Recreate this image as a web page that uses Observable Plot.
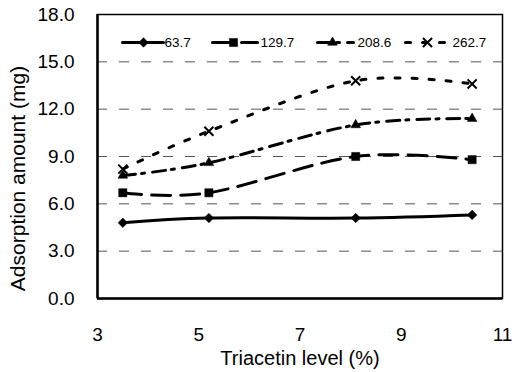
<!DOCTYPE html>
<html>
<head>
<meta charset="utf-8">
<script src="https://cdn.jsdelivr.net/npm/d3@7"></script>
<script src="https://cdn.jsdelivr.net/npm/@observablehq/plot@0.6"></script>
<style>
  html, body { margin: 0; padding: 0; background: #fff; }
  #chart svg { display: block; }
</style>
</head>
<body>
<div id="chart"></div>
<script>
// ---- data ----
const triacetin = [3.5, 5.2, 8.1, 10.4];
const seriesNames = ["63.7", "129.7", "208.6", "262.7"];
const s63_7  = [4.8, 5.1, 5.1, 5.3];
const s129_7 = [6.7, 6.7, 9.0, 8.8];
const s208_6 = [7.8, 8.6, 11.0, 11.4];
const s262_7 = [8.2, 10.6, 13.8, 13.6];
const seriesValues = [s63_7, s129_7, s208_6, s262_7];
const xTicks = [3, 5, 7, 9, 11];
const yTicks = [0, 3, 6, 9, 12, 15, 18];
const gridTicks = [3, 6, 9, 12, 15];
const xLabel = "Triacetin level (%)";
const yLabel = "Adsorption amount (mg)";

// ---- styles / layout ----
const W = 514, H = 372, mL = 97, mR = 12, mT = 14, mB = 74;
const xDom = [3, 11], yDom = [0, 18];
const dashes = [null, "19,10", "13,6,3,8", "5,12"];
const symbols = ["square", "square", "triangle", "times"];
const rotations = [45, 0, 0, 0];
const radii = [3.8, 4.6, 3.6, 4.2];
// legend layout in pixels
const legendY = 42;
const legendSeg = [[122, 163], [212, 257], [317, 353], [405, 450]];
const legendMark = [143, 233, 332, 427];
const legendText = [164, 260, 357, 452];

const px2x = p => xDom[0] + (p - mL) / (W - mL - mR) * (xDom[1] - xDom[0]);
const px2y = p => yDom[0] + (H - mB - p) / (H - mT - mB) * (yDom[1] - yDom[0]);

const rows = [];
seriesNames.forEach((name, si) => {
  triacetin.forEach((t, i) => rows.push({series: name, si, x: t, y: seriesValues[si][i]}));
});

const marks = [
  Plot.ruleY(gridTicks, {stroke: "#555", strokeWidth: 1, strokeDasharray: "10,12"}),
];

seriesNames.forEach((name, si) => {
  const data = rows.filter(d => d.si === si);
  marks.push(Plot.line(data, {x: "x", y: "y", curve: "cardinal", stroke: "black", strokeWidth: 3,
    strokeDasharray: dashes[si] || undefined}));
  const isTimes = symbols[si] === "times";
  marks.push(Plot.dot(data, {x: "x", y: "y", symbol: () => symbols[si], r: radii[si], rotate: rotations[si],
    fill: isTimes ? "none" : "black", stroke: "black", strokeWidth: isTimes ? 2 : 0.5}));
  // legend
  const ly = px2y(legendY);
  marks.push(Plot.line([{x: px2x(legendSeg[si][0]), y: ly}, {x: px2x(legendSeg[si][1]), y: ly}],
    {x: "x", y: "y", stroke: "black", strokeWidth: 3, strokeDasharray: dashes[si] || undefined}));
  marks.push(Plot.dot([{x: px2x(legendMark[si]), y: ly}], {x: "x", y: "y", symbol: () => symbols[si],
    r: radii[si], rotate: rotations[si], fill: isTimes ? "none" : "black", stroke: "black", strokeWidth: isTimes ? 2 : 0.5}));
  marks.push(Plot.text([{x: px2x(legendText[si]), y: ly, t: name}], {x: "x", y: "y", text: "t",
    textAnchor: "start", fontSize: 13.5, fill: "black", lineAnchor: "middle"}));
});

marks.push(
  Plot.frame({stroke: "black", strokeWidth: 1.5}),
  Plot.ruleX([xDom[0]], {stroke: "black", strokeWidth: 2.5}),
  Plot.ruleY([yDom[0]], {stroke: "black", strokeWidth: 2.5}),
  Plot.axisY({ticks: yTicks, tickFormat: d => d.toFixed(1), tickSize: 0, tickPadding: 23, label: null, fontSize: 19}),
  Plot.axisX({ticks: xTicks, tickFormat: d => String(d), tickSize: 0, tickPadding: 29, label: null, fontSize: 19}),
  Plot.text([xLabel], {frameAnchor: "bottom", dy: 60, text: d => d, fontSize: 20, textAnchor: "middle", lineAnchor: "middle", fill: "black"}),
  Plot.text([yLabel], {frameAnchor: "left", dx: -79, dy: 22, rotate: -90, text: d => d, fontSize: 21, textAnchor: "middle", lineAnchor: "middle", fill: "black"})
);

const chart = Plot.plot({
  width: W, height: H,
  marginLeft: mL, marginRight: mR, marginTop: mT, marginBottom: mB,
  x: {domain: xDom},
  y: {domain: yDom},
  style: {fontFamily: "'Liberation Sans', Arial, sans-serif", fontSize: "19px", color: "black", background: "white"},
  marks
});
document.getElementById("chart").appendChild(chart);
</script>
</body>
</html>
